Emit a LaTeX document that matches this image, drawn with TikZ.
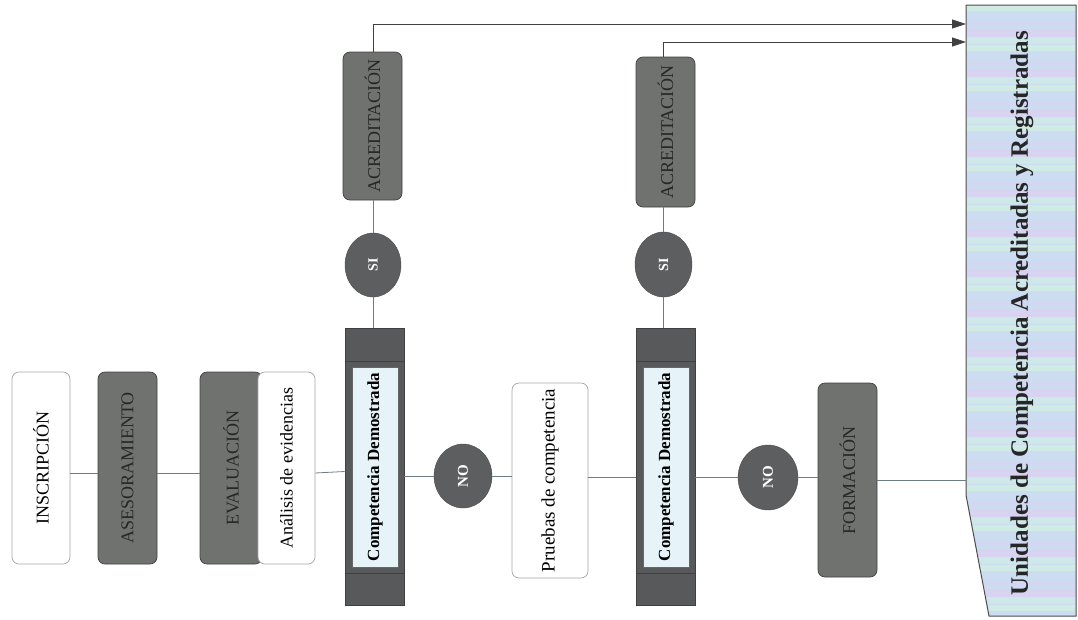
\documentclass[tikz,border=0pt]{standalone}
\usepackage{fontspec}
\setmainfont{Liberation Serif}
\usetikzlibrary{shapes.geometric,arrows.meta,calc}
\definecolor{boxgrey}{HTML}{6F726F}
\definecolor{boxtext}{HTML}{262828}
\definecolor{cdgrey}{HTML}{58595A}
\definecolor{cdinner}{HTML}{E6F3F8}
\definecolor{circgrey}{HTML}{5D5E5F}
\definecolor{linec}{HTML}{6E7C86}
\definecolor{pmint}{HTML}{CFEBE4}
\definecolor{plav}{HTML}{D9D3F2}
\definecolor{pblue}{HTML}{CCDDF2}
\begin{document}
\begin{tikzpicture}[x=1pt,y=-1pt,
  conn/.style={draw=linec,line width=0.8pt},
  arr/.style={draw=black!75,line width=0.8pt,-{Triangle[length=14pt,width=9pt]}},
  whitebox/.style={draw=gray!70,fill=white,rounded corners=7pt,line width=0.7pt,
    minimum width=#1,inner sep=0pt},
  darkbox/.style={draw=gray!50!black,fill=boxgrey,rounded corners=7pt,line width=0.7pt,
    text=boxtext,minimum width=#1,inner sep=0pt},
  cdout/.style={draw=black!75,fill=cdgrey,minimum width=59pt,minimum height=277pt,
    inner sep=0pt,line width=0.8pt},
  cdin/.style={draw=black!60,fill=cdinner,minimum width=46pt,minimum height=200pt,
    inner sep=0pt,font=\fontsize{17}{19}\selectfont\bfseries},
  circ/.style={ellipse,draw=black!70,fill=circgrey,text=white,minimum width=58pt,
    minimum height=64pt,inner sep=0pt,font=\fontsize{15}{17}\selectfont\bfseries},
  lbl/.style={font=\fontsize{18}{20}\selectfont}
]
\useasboundingbox (0,0) rectangle (1078,619);

% right panel
\coordinate (pin1) at (966,24);
\coordinate (pin2) at (966,42);
\coordinate (pin3) at (966,480);
\begin{scope}
\clip (966,5) -- (1076,5) -- (1076,616) -- (989,616) -- (966,495) -- cycle;
\fill[pblue] (960,0) rectangle (1080,620);
\foreach \i in {0,...,76}{
  \pgfmathtruncatemacro{\k}{mod(\i*7,5)}
  \ifnum\k=0 \fill[pmint] (960,5+8*\i) rectangle (1080,11+8*\i);\fi
  \ifnum\k=1 \fill[plav] (960,5+8*\i) rectangle (1080,13+8*\i);\fi
  \ifnum\k=3 \fill[pmint!70!pblue] (960,5+8*\i) rectangle (1080,12+8*\i);\fi
  \ifnum\k=4 \fill[plav!60!pblue] (960,5+8*\i) rectangle (1080,10+8*\i);\fi
}
\end{scope}
\draw[black!70,line width=1pt] (966,5) -- (1076,5) -- (1076,616) -- (989,616) -- (966,495) -- cycle;
\node[font=\fontsize{25}{28}\selectfont\bfseries,text=black!85] (panel) at (1022,313)
  {\rotatebox{90}{Unidades de Competencia Acreditadas y Registradas}};

% left chain
\node[whitebox=58pt,minimum height=192pt,lbl] (insc) at (41,468) {\rotatebox{90}{INSCRIPCIÓN}};
\node[darkbox=59pt,minimum height=192pt,lbl] (ases) at (127.5,468) {\rotatebox{90}{ASESORAMIENTO}};
\node[darkbox=62pt,minimum height=192pt,lbl] (eval) at (231,468) {\rotatebox{90}{EVALUACIÓN}};
\node[whitebox=57pt,minimum height=192pt,lbl] (anal) at (286.5,468) {\rotatebox{90}{Análisis de evidencias}};

% competencia demostrada 1
\node[cdout] (cd1) at (374.5,466.5) {};
\draw[black!75,line width=0.8pt] ([yshift=-34pt]cd1.north west) -- ([yshift=-34pt]cd1.north east);
\draw[black!75,line width=0.8pt] ([yshift=32pt]cd1.south west) -- ([yshift=32pt]cd1.south east);
\node[cdin] (cdt1) at (375,467) {\rotatebox{90}{Competencia Demostrada}};

\node[circ] (no1) at (463,476) {\rotatebox{90}{NO}};
\node[whitebox=76pt,minimum height=195pt,lbl,font=\fontsize{19}{21}\selectfont] (prue) at (550,480.5) {\rotatebox{90}{Pruebas de competencia}};

% competencia demostrada 2
\node[cdout] (cd2) at (665.5,466.5) {};
\draw[black!75,line width=0.8pt] ([yshift=-34pt]cd2.north west) -- ([yshift=-34pt]cd2.north east);
\draw[black!75,line width=0.8pt] ([yshift=32pt]cd2.south west) -- ([yshift=32pt]cd2.south east);
\node[cdin] (cdt2) at (666,467) {\rotatebox{90}{Competencia Demostrada}};

\node[circ,minimum width=60pt,minimum height=65pt] (no2) at (768,477.5) {\rotatebox{90}{NO}};
\node[darkbox=59pt,minimum height=194pt,lbl] (form) at (847.5,480) {\rotatebox{90}{FORMACIÓN}};

% top branches
\node[circ,minimum width=56pt,minimum height=64pt,font=\fontsize{14}{16}\selectfont\bfseries] (si1) at (373,265) {\rotatebox{90}{SI}};
\node[darkbox=59pt,minimum height=148pt,lbl] (acr1) at (372.5,126) {\rotatebox{90}{ACREDITACIÓN}};
\node[circ,minimum width=57pt,minimum height=65pt,font=\fontsize{14}{16}\selectfont\bfseries] (si2) at (663.5,264.5) {\rotatebox{90}{SI}};
\node[darkbox=59pt,minimum height=150pt,lbl] (acr2) at (665.5,132) {\rotatebox{90}{ACREDITACIÓN}};

% horizontal connectors
\draw[conn] ([yshift=-5pt]insc.east) -- ([yshift=-5pt]ases.west);
\draw[conn] ([yshift=-5pt]ases.east) -- ([yshift=-5pt]eval.west);
\draw[conn] ([yshift=-5pt]anal.east) -- ([yshift=-5pt]cd1.west);
\draw[conn] (cd1.east |- no1.west) -- (no1.west);
\draw[conn] (no1.east) -- (prue.west |- no1.east);
\draw[conn] (prue.east |- cd2.west) ++(0,-11pt) -- ([yshift=-11pt]cd2.west);
\draw[conn] (cd2.east |- no2.west) -- (no2.west);
\draw[conn] (no2.east) -- (form.west |- no2.east);
\draw[conn] (form.east) -- (pin3);

% vertical connectors
\draw[conn] (cd1.north -| si1.south) -- (si1.south);
\draw[conn] (si1.north) -- (acr1.south -| si1.north);
\draw[conn] (cd2.north -| si2.south) -- (si2.south);
\draw[conn] (si2.north) -- (acr2.south -| si2.north);
\draw[arr] (acr1.north -| si1.north) |- (pin1);
\draw[arr] (acr2.north -| si2.north) |- (pin2);
\end{tikzpicture}
\end{document}
